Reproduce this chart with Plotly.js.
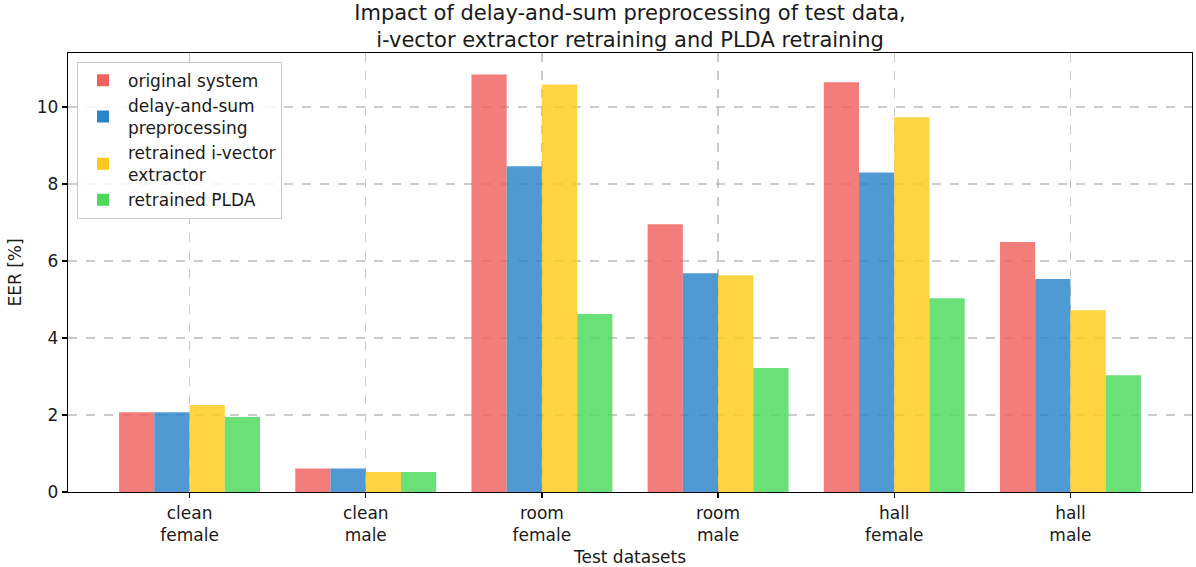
<!DOCTYPE html>
<html><head><meta charset="utf-8">
<script src="https://cdn.plot.ly/plotly-3.0.1.min.js"></script>
<style>html,body{margin:0;padding:0;background:#fff}#chart{width:1196px;height:567px}</style>
</head><body><div id="chart"></div>
<script>
const categories = ["clean<br>female","clean<br>male","room<br>female","room<br>male","hall<br>female","hall<br>male"];
const seriesNames = ["original system","delay-and-sum<br>preprocessing","retrained i-vector<br>extractor","retrained PLDA"];
const originalSystem = [2.07, 0.61, 10.84, 6.95, 10.64, 6.49];
const delayAndSum = [2.07, 0.61, 8.46, 5.68, 8.30, 5.53];
const retrainedIvector = [2.26, 0.52, 10.58, 5.63, 9.73, 4.72];
const retrainedPLDA = [1.95, 0.52, 4.62, 3.22, 5.03, 3.03];
const colors = ["#f0605d","#2a84c9","#fdc91a","#4bd95a"];
const values = [originalSystem, delayAndSum, retrainedIvector, retrainedPLDA];

const font = "DejaVu Sans, sans-serif";
const fs = 17;
const traces = values.map((v,i)=>({
  type:"bar", x:categories, y:v, name:seriesNames[i],
  marker:{color:colors[i], opacity:0.82, line:{width:0}},
  hoverinfo:"skip"
}));

const layout = {
  width:1196, height:567,
  margin:{l:68, r:4, t:53, b:75},
  paper_bgcolor:"#fff", plot_bgcolor:"#fff",
  font:{family:font, size:fs, color:"#1a1a1a"},
  title:{text:"Impact of delay-and-sum preprocessing of test data,<br>i-vector extractor retraining and PLDA retraining",
    font:{family:font, size:21, color:"#1a1a1a"}, x:0.5, xref:"paper", xanchor:"center",
    yref:"paper", y:1, yanchor:"bottom", pad:{b:33}},
  barmode:"group", bargap:0.2, bargroupgap:0,
  xaxis:{type:"category", range:[-0.69,5.69], showline:true, mirror:true, linecolor:"#000", linewidth:1.3,
    ticks:"outside", ticklen:5, tickcolor:"#000", tickwidth:1.3,
    showgrid:true, gridcolor:"rgba(160,160,160,0.55)", griddash:"dash", gridwidth:1.3,
    tickfont:{family:font, size:fs, color:"#1a1a1a"},
    title:{text:"Test datasets", font:{family:font, size:fs, color:"#1a1a1a"}, standoff:7},
    zeroline:false},
  yaxis:{range:[0,11.4], showline:true, mirror:true, linecolor:"#000", linewidth:1.3,
    ticks:"outside", ticklen:5, tickcolor:"#000", tickwidth:1.3, tickvals:[0,2,4,6,8,10],
    showgrid:true, gridcolor:"rgba(160,160,160,0.55)", griddash:"dash", gridwidth:1.3,
    tickfont:{family:font, size:fs, color:"#1a1a1a"},
    title:{text:"EER [%]", font:{family:font, size:fs, color:"#1a1a1a"}, standoff:10},
    zeroline:false},
  legend:{x:0.008, y:0.98, xanchor:"left", yanchor:"top", bgcolor:"rgba(255,255,255,0.85)",
    bordercolor:"#cccccc", borderwidth:1, font:{family:font, size:fs, color:"#1a1a1a"},
    tracegroupgap:0, itemwidth:40}
};
Plotly.newPlot("chart", traces, layout, {staticPlot:true, displayModeBar:false});
</script></body></html>
